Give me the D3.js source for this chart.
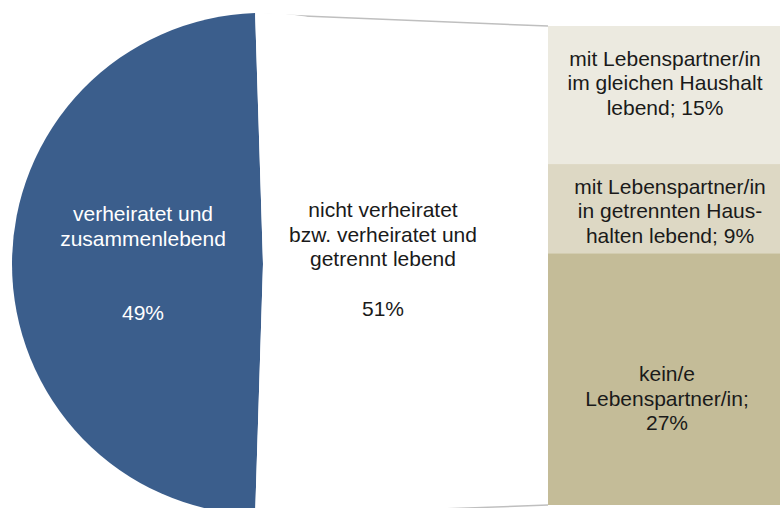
<html>
<head>
  <style>
  body { margin: 0; background: #fff; }
  #chart text {
    font: 21px "Liberation Sans", Arial, sans-serif;
    text-anchor: middle;
  }
  </style>
  <script src="https://d3js.org/d3.v7.min.js"></script>
</head>
<body>
  <svg id="chart"></svg>
</body>
  <script>
  // Pie slices (left pie)
  var pieNames = ["verheiratet und zusammenlebend", "nicht verheiratet bzw. verheiratet und getrennt lebend"];
  var pieValues = [49, 51];
  var pieLabels = [
    ["verheiratet und", "zusammenlebend", "", "", "49%"],
    ["nicht verheiratet", "bzw. verheiratet und", "getrennt lebend", "", "51%"]
  ];
  // Breakdown of the 51% slice (right bar)
  var barNames = ["im gleichen Haushalt", "in getrennten Haushalten", "kein/e Lebenspartner/in"];
  var barValues = [14.7, 9.5, 26.8];
  var barLabels = [
    ["mit Lebenspartner/in", "im gleichen Haushalt", "lebend; 15%"],
    ["mit Lebenspartner/in", "in getrennten Haus-", "halten lebend; 9%"],
    ["kein/e", "Lebenspartner/in;", "27%"]
  ];

  var width = 780, height = 508;
  var cx = 263, cy = 264, r = 251;
  var barX = 548, barW = 240, barTop = 26, barBottom = 505;
  var lineH = 24.8;

  var pieColors = ["#3b5e8c", "#ffffff"];
  var barColors = ["#eceae0", "#ddd8c4", "#c4bc98"];
  // small manual nudges of the bar labels (as in the original)
  var barLabelDy = [-12, 2, 19];
  var barLabelDx = [0, 5, 2];

  var svg = d3.select("#chart")
      .attr("width", width)
      .attr("height", height);

  var blueSpan = pieValues[0] / d3.sum(pieValues) * 2 * Math.PI;
  var start = 1.5 * Math.PI - blueSpan / 2;
  var pie = d3.pie().sort(null).startAngle(start).endAngle(start + 2 * Math.PI);
  var arcs = pie(pieValues);
  var arc = d3.arc().innerRadius(0).outerRadius(r);

  var total = d3.sum(barValues);
  var y = d3.scaleLinear().domain([0, total]).range([barTop, barBottom]);
  var cum = d3.cumsum(barValues);
  var segs = barValues.map(function(v, i) { return { y0: cum[i] - v, y1: cum[i], i: i }; });

  // connector lines (drawn first, the pie covers the inner part)
  function edgePoint(a) { return [cx + r * Math.sin(a), cy - r * Math.cos(a)]; }
  var p0 = edgePoint(arcs[1].startAngle), p1 = edgePoint(arcs[1].endAngle);
  svg.append("g").selectAll("line")
      .data([[p0, [barX, y(0)]], [p1, [barX, y(total)]]])
    .enter().append("line")
      .attr("x1", function(d) { return d[0][0]; })
      .attr("y1", function(d) { return d[0][1] + 1; })
      .attr("x2", function(d) { return d[1][0]; })
      .attr("y2", function(d) { return d[1][1]; })
      .attr("stroke", "#bfbfbf")
      .attr("stroke-width", 1.5);

  // pie
  var g = svg.append("g").attr("transform", "translate(" + cx + "," + cy + ")");
  g.selectAll("path")
      .data(arcs)
    .enter().append("path")
      .attr("d", arc)
      .attr("fill", function(d, i) { return pieColors[i]; });

  var labelArc = d3.arc().innerRadius(120).outerRadius(120);
  g.selectAll("text")
      .data(arcs)
    .enter().append("text")
      .attr("fill", function(d, i) { return i === 0 ? "#ffffff" : "#1a1a1a"; })
      .attr("transform", function(d, i) {
        var c = labelArc.centroid(d);
        return "translate(" + c[0] + "," + (c[1] + (i === 0 ? -1 : -5)) + ")";
      })
      .selectAll("tspan")
      .data(function(d, i) { return pieLabels[i]; })
    .enter().append("tspan")
      .attr("x", 0)
      .attr("y", function(t, j, nodes) { return (j - (nodes.length - 1) / 2) * lineH; })
      .attr("dy", "0.35em")
      .text(function(t) { return t; });

  // stacked bar
  var bar = svg.append("g");
  bar.selectAll("rect")
      .data(segs)
    .enter().append("rect")
      .attr("x", barX)
      .attr("y", function(d) { return y(d.y0); })
      .attr("width", barW)
      .attr("height", function(d) { return y(d.y1) - y(d.y0); })
      .attr("fill", function(d) { return barColors[d.i]; });

  bar.selectAll("text")
      .data(segs)
    .enter().append("text")
      .attr("fill", "#1a1a1a")
      .attr("transform", function(d) {
        return "translate(" + (barX + 117 + barLabelDx[d.i]) + "," + ((y(d.y0) + y(d.y1)) / 2 + barLabelDy[d.i]) + ")";
      })
      .selectAll("tspan")
      .data(function(d) { return barLabels[d.i]; })
    .enter().append("tspan")
      .attr("x", 0)
      .attr("y", function(t, j, nodes) { return (j - (nodes.length - 1) / 2) * 24.5; })
      .attr("dy", "0.35em")
      .text(function(t) { return t; });
  </script>
</html>
